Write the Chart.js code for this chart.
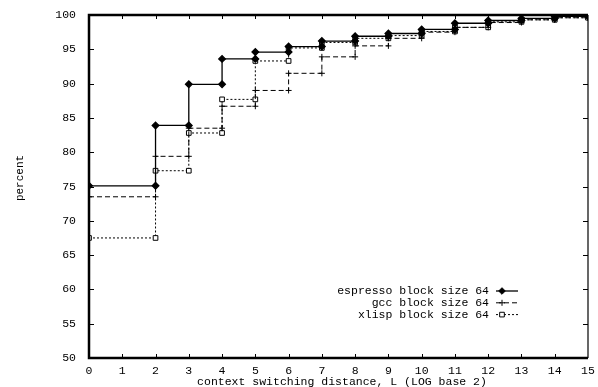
<!DOCTYPE html>
<html>
<head>
<meta charset="utf-8">
<script src="https://cdn.jsdelivr.net/npm/chart.js@4"></script>
<style>
  html, body { margin: 0; padding: 0; background: #fff; }
  #wrap { width: 598px; height: 387px; }
</style>
</head>
<body>
<div id="wrap"><canvas id="cdf_chart"></canvas></div>
<script>
// jshint esversion: 6

// context switching distance, L (log base 2)
const distances = [0, 2, 3, 4, 5, 6, 7, 8, 9, 10, 11, 12, 13, 14, 15];

// cumulative percent at each distance
const espresso = [75.1, 83.9, 89.9, 93.6, 94.6, 95.4, 96.2, 96.9, 97.3, 97.9, 98.8, 99.2, 99.5, 99.8, 100];
const gcc      = [73.5, 79.4, 83.5, 86.7, 89.0, 91.5, 93.9, 95.5, 96.6, 97.5, 98.2, 98.9, 99.3, 99.6, 100];
const xlisp    = [67.5, 77.3, 82.8, 87.7, 93.3, 95.2, 96.0, 96.6, 97.0, 97.6, 98.2, 99.0, 99.3, 99.6, 100];

const series_labels = ['espresso block size 64', 'gcc block size 64', 'xlisp block size 64'];
const x_title = 'context switching distance, L (LOG base 2)';
const y_title = 'percent';

const FONT = '"Liberation Mono", "DejaVu Sans Mono", monospace';

// staircase: hold the previous value up to the next distance, then jump
function steps(values)
{
    let pts = [{x: distances[0], y: values[0]}];
    for (let i = 1; i < distances.length; i++) {
        pts.push({x: distances[i], y: values[i - 1]});
        pts.push({x: distances[i], y: values[i]});
    }
    return pts;
}

// frame with inward ticks on all four sides
const frame = {
    id: 'frame',
    afterDatasetsDraw(chart) {
        const ctx = chart.ctx;
        const a = chart.chartArea;
        const xs = chart.scales.x, ys = chart.scales.y;
        ctx.save();
        ctx.strokeStyle = '#000';
        ctx.lineWidth = 1;
        ctx.beginPath();
        for (let v = 1; v < 15; v++) {
            const px = Math.round(xs.getPixelForValue(v)) + 0.5;
            ctx.moveTo(px, a.bottom); ctx.lineTo(px, a.bottom - 4);
            ctx.moveTo(px, a.top); ctx.lineTo(px, a.top + 4);
        }
        for (let v = 55; v < 100; v += 5) {
            const py = Math.round(ys.getPixelForValue(v)) + 0.5;
            ctx.moveTo(a.left, py); ctx.lineTo(a.left + 5, py);
            ctx.moveTo(a.right, py); ctx.lineTo(a.right - 5, py);
        }
        ctx.stroke();
        ctx.lineWidth = 2.5;
        ctx.beginPath();
        ctx.moveTo(a.right, a.top);
        ctx.lineTo(a.left, a.top);
        ctx.lineTo(a.left, a.bottom);
        ctx.lineTo(a.right, a.bottom);
        ctx.stroke();
        ctx.lineWidth = 1.2;
        ctx.beginPath();
        ctx.moveTo(a.right, a.top);
        ctx.lineTo(a.right, a.bottom);
        ctx.stroke();
        ctx.restore();
    }
};

// key in the lower right: label, then a short line sample with its marker,
// plus both axis titles
const key = {
    id: 'key',
    afterDraw(chart) {
        const ctx = chart.ctx;
        const a = chart.chartArea;
        ctx.save();
        ctx.font = '11.5px ' + FONT;
        ctx.textAlign = 'right';
        ctx.textBaseline = 'middle';
        chart.data.datasets.forEach(function(ds, i) {
            const y = 291 + i * 11.8;
            ctx.fillStyle = '#000';
            ctx.fillText(ds.label, 489, y);
            ctx.strokeStyle = '#000';
            ctx.lineWidth = ds.borderWidth;
            ctx.setLineDash(ds.borderDash || []);
            ctx.beginPath();
            ctx.moveTo(496, y);
            ctx.lineTo(518, y);
            ctx.stroke();
            ctx.setLineDash([]);
            ctx.fillStyle = ds.pointBackgroundColor || '#fff';
            ctx.lineWidth = 1;
            Chart.helpers.drawPoint(ctx, {
                pointStyle: ds.pointStyle,
                radius: ds.pointRadius,
                rotation: 0,
                borderWidth: 1
            }, 502, y);
        });

        ctx.fillStyle = '#000';
        ctx.textAlign = 'center';
        ctx.fillText(x_title, 342, a.bottom + 24);

        ctx.translate(20, 178);
        ctx.rotate(-Math.PI / 2);
        ctx.font = '11px ' + FONT;
        ctx.fillText(y_title, 0, 0);
        ctx.restore();
    }
};

const ctx = document.getElementById('cdf_chart').getContext('2d');
let myChart = new Chart(ctx, {
    type: 'scatter',
    data: {
        datasets: [{
            label: series_labels[0],
            data: steps(espresso),
            showLine: true,
            borderColor: '#000',
            borderWidth: 1.3,
            pointStyle: 'rectRot',
            pointRadius: 3.3,
            pointBackgroundColor: '#000',
            pointBorderColor: '#000'
        }, {
            label: series_labels[1],
            data: steps(gcc),
            showLine: true,
            borderColor: '#000',
            borderWidth: 1,
            borderDash: [5, 3],
            pointStyle: 'cross',
            pointRadius: 3,
            pointBorderWidth: 1,
            pointBorderColor: '#000'
        }, {
            label: series_labels[2],
            data: steps(xlisp),
            showLine: true,
            borderColor: '#000',
            borderWidth: 1,
            borderDash: [2, 2],
            pointStyle: 'rect',
            pointRadius: 3.3,
            pointBorderWidth: 1,
            pointBackgroundColor: '#fff',
            pointBorderColor: '#000'
        }]
    },
    options: {
        responsive: true,
        maintainAspectRatio: false,
        animation: false,
        layout: { padding: { top: 15, right: 10, left: 0, bottom: 0 } },
        plugins: {
            legend: { display: false },
            tooltip: { enabled: false }
        },
        scales: {
            x: {
                type: 'linear',
                min: 0,
                max: 15,
                grid: { display: false },
                border: { display: false },
                ticks: {
                    stepSize: 1,
                    padding: -2,
                    color: '#000',
                    font: { family: FONT, size: 11.5 }
                },
                afterFit(scale) { scale.height = 29; }
            },
            y: {
                min: 50,
                max: 100,
                grid: { display: false },
                border: { display: false },
                ticks: {
                    stepSize: 5,
                    padding: 5,
                    color: '#000',
                    font: { family: FONT, size: 11.5 }
                },
                afterFit(scale) { scale.width = 89; }
            }
        }
    },
    plugins: [frame, key]
});
</script>
</body>
</html>
